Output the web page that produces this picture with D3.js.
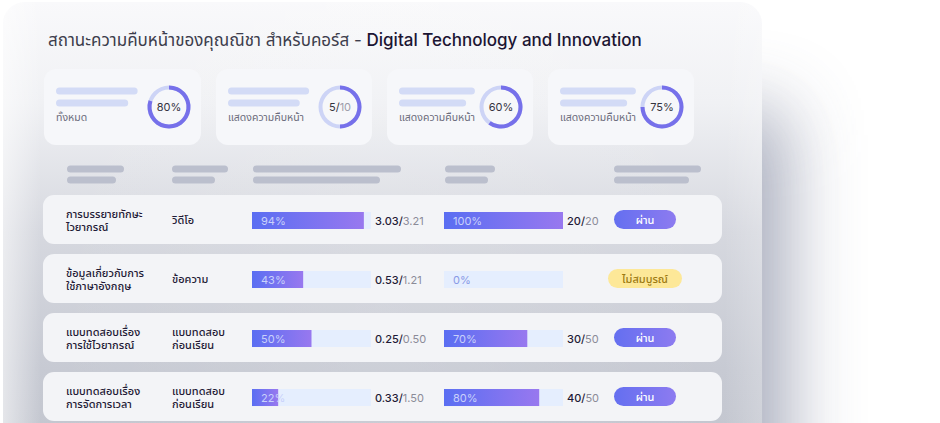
<!DOCTYPE html>
<html>
<head>
<meta charset="utf-8">
<script src="https://cdn.jsdelivr.net/npm/d3@7/dist/d3.min.js"></script>
<style>
  html, body { margin: 0; padding: 0; background: #fff; }
  svg { display: block; font-family: Inter, 'Noto Sans Thai', 'Noto Sans', sans-serif; }
</style>
</head>
<body>
<svg id="chart" width="940" height="423"></svg>
<script>
// title
var titleThai = 'สถานะความคืบหน้าของคุณณิชา สำหรับคอร์ส - ';
var titleCourse = 'Digital Technology and Innovation';

// summary cards
var statLabels = ['ทั้งหมด', 'แสดงความคืบหน้า', 'แสดงความคืบหน้า', 'แสดงความคืบหน้า'];
var statValues = [0.8, 0.5, 0.6, 0.75];
var statMain = ['80%', '5/', '60%', '75%'];
var statSub = ['', '10', '', ''];

// lesson rows
var lessonNames = [
  ['การบรรยายทักษะ', 'ไวยากรณ์'],
  ['ข้อมูลเกี่ยวกับการ', 'ใช้ภาษาอังกฤษ'],
  ['แบบทดสอบเรื่อง', 'การใช้ไวยากรณ์'],
  ['แบบทดสอบเรื่อง', 'การจัดการเวลา']
];
var lessonTypes = [['วิดีโอ'], ['ข้อความ'], ['แบบทดสอบ', 'ก่อนเรียน'], ['แบบทดสอบ', 'ก่อนเรียน']];
var progressPct = [94, 43, 50, 22];
var progressGot = ['3.03', '0.53', '0.25', '0.33'];
var progressMax = ['3.21', '1.21', '0.50', '1.50'];
var quizPct = [100, 0, 70, 80];
var quizGot = ['20', null, '30', '40'];
var quizMax = ['20', null, '50', '50'];
var statusText = ['ผ่าน', 'ไม่สมบูรณ์', 'ผ่าน', 'ผ่าน'];
var statusPass = [true, false, true, true];

var svg = d3.select('#chart');
var defs = svg.append('defs');

function linGrad(id, x2, y2, stops) {
  var g = defs.append('linearGradient').attr('id', id)
    .attr('x1', 0).attr('y1', 0).attr('x2', x2).attr('y2', y2);
  stops.forEach(function(s) {
    g.append('stop').attr('offset', s[0]).attr('stop-color', s[1]).attr('stop-opacity', s[2] == null ? 1 : s[2]);
  });
}
linGrad('panelGrad', 0, 1, [[0, '#f9f9fb'], [0.22, '#f0f1f4'], [0.5, '#d6d8df'], [0.8, '#c7cad3'], [1, '#c2c5ce']]);
linGrad('panelSide', 1, 0, [[0, '#ffffff', 0.55], [0.05, '#ffffff', 0], [0.5, '#ffffff', 0.1], [0.95, '#ffffff', 0], [1, '#ffffff', 0.2]]);
linGrad('barGrad', 1, 0, [[0, '#5a6ef2'], [1, '#9878ef']]);
linGrad('badgeGrad', 1, 0, [[0, '#646ff0'], [1, '#8d7bf0']]);

var blur = defs.append('filter').attr('id', 'soft')
  .attr('x', '-100%').attr('y', '-100%').attr('width', '300%').attr('height', '300%');
blur.append('feGaussianBlur').attr('stdDeviation', 38);

// shadow to the right of the panel
svg.append('rect')
  .attr('x', 690).attr('y', 110).attr('width', 95).attr('height', 480)
  .attr('fill', '#999eb1').attr('opacity', 0.9)
  .attr('filter', 'url(#soft)');

// panel
svg.append('rect')
  .attr('x', 3).attr('y', 2).attr('width', 759).attr('height', 460).attr('rx', 22)
  .attr('fill', 'url(#panelGrad)');
svg.append('rect')
  .attr('x', 3).attr('y', 2).attr('width', 759).attr('height', 460).attr('rx', 22)
  .attr('fill', 'url(#panelSide)');

// title
var title = svg.append('text').attr('x', 48).attr('y', 46).attr('font-size', 17);
title.append('tspan').attr('fill', '#3d3d4c').text(titleThai);
title.append('tspan').attr('fill', '#1c1533').attr('font-weight', 500).text(titleCourse);

// summary cards
var cardW = [157, 156, 146, 146];
var cardX = [];
cardW.reduce(function(x, w) { cardX.push(x); return x + w + 15; }, 44);

var arcBg = d3.arc().innerRadius(17.5).outerRadius(21.5).startAngle(0).endAngle(2 * Math.PI);
var arcFg = d3.arc().innerRadius(17.5).outerRadius(21.5).startAngle(0);

var cards = svg.selectAll('g.card').data(statValues).join('g')
  .attr('class', 'card')
  .attr('transform', function(d, i) { return 'translate(' + cardX[i] + ',69)'; });

cards.append('rect')
  .attr('width', function(d, i) { return cardW[i]; })
  .attr('height', 76).attr('rx', 12)
  .attr('fill', '#f6f7fa');

cards.append('line')
  .attr('x1', 15.5).attr('y1', 22)
  .attr('x2', function(d, i) { return 8.5 + cardW[i] * 0.52; }).attr('y2', 22)
  .attr('stroke', '#d3dbf6').attr('stroke-width', 7).attr('stroke-linecap', 'round');
cards.append('line')
  .attr('x1', 15.5).attr('y1', 34)
  .attr('x2', function(d, i) { return 8.5 + cardW[i] * 0.46; }).attr('y2', 34)
  .attr('stroke', '#d3dbf6').attr('stroke-width', 7).attr('stroke-linecap', 'round');

cards.append('text')
  .attr('x', 12).attr('y', 52).attr('font-size', 10.5).attr('fill', '#6c6c7c')
  .text(function(d, i) { return statLabels[i]; });

var donut = cards.append('g')
  .attr('transform', function(d, i) { return 'translate(' + (cardW[i] - 32) + ',38)'; });
donut.append('path').attr('d', arcBg()).attr('fill', '#cdd4f6');
donut.append('path').attr('d', function(d) { return arcFg({endAngle: 2 * Math.PI * d}); }).attr('fill', '#7670ea');
var dt = donut.append('text').attr('text-anchor', 'middle').attr('y', 4).attr('font-size', 11);
dt.append('tspan').attr('fill', '#34343f').text(function(d, i) { return statMain[i]; });
dt.append('tspan').attr('fill', '#9d9daa').text(function(d, i) { return statSub[i]; });

// table header placeholders
var headX = [67, 172, 253, 445, 614];
var headW1 = [57, 56, 148, 50, 87];
var headW2 = [49, 43, 127, 43, 75];
var head = svg.selectAll('g.head').data(headX).join('g').attr('class', 'head');
head.append('line')
  .attr('x1', function(d) { return d + 3.5; }).attr('y1', 169)
  .attr('x2', function(d, i) { return d + headW1[i] - 3.5; }).attr('y2', 169)
  .attr('stroke', '#bbbfcd').attr('stroke-width', 7).attr('stroke-linecap', 'round');
head.append('line')
  .attr('x1', function(d) { return d + 3.5; }).attr('y1', 180)
  .attr('x2', function(d, i) { return d + headW2[i] - 3.5; }).attr('y2', 180)
  .attr('stroke', '#bbbfcd').attr('stroke-width', 7).attr('stroke-linecap', 'round');

// rows
var y = d3.scaleBand().domain(d3.range(lessonNames.length)).range([195, 421]).paddingInner(0.17);
var barX1 = d3.scaleLinear().domain([0, 100]).range([0, 119]);

var rows = svg.selectAll('g.row').data(lessonNames).join('g')
  .attr('class', 'row')
  .attr('transform', function(d, i) { return 'translate(0,' + y(i) + ')'; });

rows.append('rect')
  .attr('x', 43).attr('width', 679).attr('height', y.bandwidth()).attr('rx', 11)
  .attr('fill', '#f3f4f7');

function twoLines(sel, x, getLines) {
  sel.each(function(d, i) {
    var lines = getLines(d, i);
    var t = d3.select(this).append('text')
      .attr('font-size', 11).attr('fill', '#1f1a36').attr('font-weight', 500);
    lines.forEach(function(s, k) {
      var base = lines.length === 1 ? 29 : 23 + k * 12.5;
      t.append('tspan').attr('x', x).attr('y', base).text(s);
    });
  });
}
twoLines(rows, 66, function(d) { return d; });
twoLines(rows, 172, function(d, i) { return lessonTypes[i]; });

function progressBar(sel, x0, pct, got, max) {
  sel.append('rect')
    .attr('x', x0).attr('y', 17).attr('width', barX1.range()[1]).attr('height', 17)
    .attr('fill', '#e5eefe');
  sel.append('rect')
    .attr('x', x0).attr('y', 17).attr('width', function(d, i) { return barX1(pct[i]); }).attr('height', 17)
    .attr('fill', 'url(#barGrad)');
  sel.append('text')
    .attr('x', x0 + 9).attr('y', 29.5).attr('font-size', 11)
    .attr('fill', function(d, i) { return pct[i] > 0 ? '#c9d1fb' : '#8899e6'; })
    .text(function(d, i) { return pct[i] + '%'; });
  var st = sel.append('text')
    .attr('x', x0 + 123).attr('y', 29.5).attr('font-size', 11);
  st.append('tspan').attr('fill', '#1f1a36').attr('font-weight', 500)
    .text(function(d, i) { return got[i] == null ? '' : got[i] + '/'; });
  st.append('tspan').attr('fill', '#8b8b98')
    .text(function(d, i) { return max[i] == null ? '' : max[i]; });
}
progressBar(rows, 252, progressPct, progressGot, progressMax);
progressBar(rows, 444, quizPct, quizGot, quizMax);

// status badges
var badge = rows.append('g').attr('transform', 'translate(645,0)');
badge.append('rect')
  .attr('x', function(d, i) { return statusPass[i] ? -31 : -37; })
  .attr('width', function(d, i) { return statusPass[i] ? 62 : 74; })
  .attr('y', 15).attr('height', 19).attr('rx', 9.5)
  .attr('fill', function(d, i) { return statusPass[i] ? 'url(#badgeGrad)' : '#fde898'; });
badge.append('text')
  .attr('text-anchor', 'middle').attr('y', 28.5).attr('font-size', 11).attr('font-weight', 500)
  .attr('fill', function(d, i) { return statusPass[i] ? '#ffffff' : '#9c7a12'; })
  .text(function(d, i) { return statusText[i]; });
</script>
</body>
</html>
